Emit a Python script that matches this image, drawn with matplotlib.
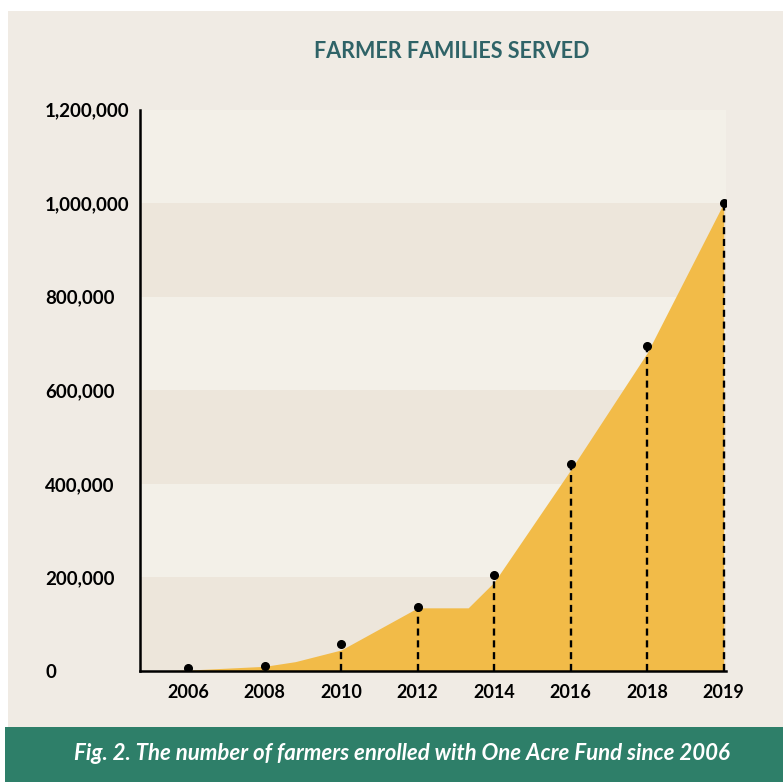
import numpy as np
import matplotlib
matplotlib.use('Agg')
from matplotlib import pyplot as plt
from matplotlib.patches import Rectangle

years = ['2006', '2008', '2010', '2012', '2014', '2016', '2018', '2019']
families = [6000, 10000, 58000, 137000, 206000, 442000, 695000, 1000000]

# outline of the filled area (x in category steps, 0 = 2006)
area_x = [-0.63, 0, 1, 1.4, 2, 3, 3.66, 4, 5, 6, 7]
area_y = [0, 2000, 10000, 20000, 45000, 135000, 135000, 190000, 430000, 680000, 1000000]

y_ticks = [0, 200000, 400000, 600000, 800000, 1000000, 1200000]

BG = '#f0ebe4'
BAND_LIGHT = '#f3f0e8'
BAND_DARK = '#ede6db'
GOLD = '#f2bb48'
GREEN = '#2e7f69'
TEAL = '#2f6367'

plt.rcParams['font.family'] = ['Lato', 'DejaVu Sans']

W, H = 783, 782
fig = plt.figure(figsize=(W / 100, H / 100), dpi=100)
fig.patch.set_facecolor('white')

# page background and caption band
fig.add_artist(Rectangle((8 / W, 55 / H), 1, (H - 11 - 55) / H, transform=fig.transFigure,
                         facecolor=BG, edgecolor='none', zorder=0))
fig.add_artist(Rectangle((5 / W, 0), 1, 55 / H, transform=fig.transFigure,
                         facecolor=GREEN, edgecolor='none', zorder=0))

ax = fig.add_axes([140 / W, 111 / H, 586 / W, 561.5 / H])
ax.set_facecolor('none')
ax.set_xlim(-0.63, 7.03)
ax.set_ylim(0, 1200000)

# alternating horizontal bands
for i in range(len(y_ticks) - 1):
    col = BAND_DARK if i % 2 == 0 else BAND_LIGHT
    ax.axhspan(y_ticks[i], y_ticks[i + 1], color=col, lw=0, zorder=0)

x = np.arange(len(years))
ax.fill_between(area_x, area_y, 0, color=GOLD, lw=0, zorder=1)
ax.vlines(x[2:], 0, families[2:], colors='black', linestyles=(0, (3, 2)), lw=1.7, zorder=2)
ax.plot(x, families, 'o', color='black', ms=5.5, zorder=3)

for s in ['top', 'right']:
    ax.spines[s].set_visible(False)
for s in ['left', 'bottom']:
    ax.spines[s].set_linewidth(1.8)
    ax.spines[s].set_color('black')

ax.set_xticks(x)
ax.set_xticklabels(years, fontsize=13, fontweight='bold')
ax.set_yticks(y_ticks)
ax.set_yticklabels([f'{v:,}' for v in y_ticks], fontsize=13.5, fontweight='bold', ha='left')
ax.tick_params(axis='both', length=0)
ax.tick_params(axis='y', pad=95 * 0.72)
ax.tick_params(axis='x', pad=9)

fig.text(452 / W, 1 - 52 / H, 'FARMER FAMILIES SERVED', color=TEAL, fontsize=15.5,
         fontweight='bold', ha='center', va='center')
fig.text(402 / W, 1 - 754 / H, 'Fig. 2. The number of farmers enrolled with One Acre Fund since 2006',
         color='white', fontsize=16, fontweight='bold', style='italic', ha='center', va='center')

fig.savefig('out.png', dpi=100, facecolor=fig.get_facecolor())
